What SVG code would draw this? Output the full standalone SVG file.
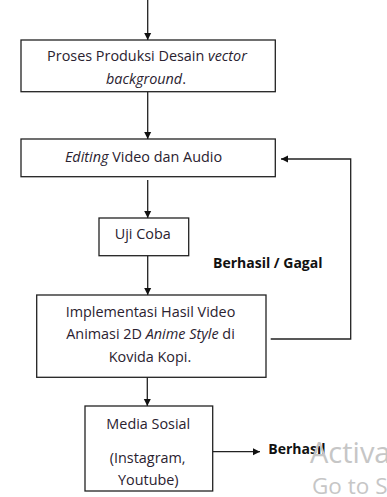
<svg xmlns="http://www.w3.org/2000/svg" width="387" height="497" viewBox="0 0 387 497">
<defs>
<marker id="ah" markerWidth="8" markerHeight="8" refX="7" refY="4" orient="auto" markerUnits="userSpaceOnUse">
<path d="M0,0.5 L7,4 L0,7.5 Z" fill="#111"/>
</marker>
<style>
.box{fill:#fff;stroke:#222;stroke-width:1.3}
.t{font-family:"Open Sans","Liberation Sans",sans-serif;font-size:14.4px;fill:#2a2230;text-anchor:middle}
.i{font-style:italic}
.b{font-family:"Open Sans","Liberation Sans",sans-serif;font-size:14px;font-weight:bold;fill:#111}
.c{fill:none;stroke:#222;stroke-width:1.3}
.w{font-family:"Open Sans","Liberation Sans",sans-serif;fill:#c6c6c6}
</style>
</defs>
<rect width="387" height="497" fill="#fff"/>
<g id="connectors">
<line class="c" x1="147.7" y1="0" x2="147.7" y2="40" marker-end="url(#ah)"/>
<line class="c" x1="147.7" y1="92" x2="147.7" y2="139" marker-end="url(#ah)"/>
<line class="c" x1="147.7" y1="180" x2="147.7" y2="218" marker-end="url(#ah)"/>
<line class="c" x1="147.7" y1="256" x2="147.7" y2="295" marker-end="url(#ah)"/>
<line class="c" x1="147.3" y1="375" x2="147.3" y2="406" marker-end="url(#ah)"/>
<polyline class="c" points="270.7,339 350.7,339 350.7,159 281,159" marker-end="url(#ah)"/>
<line class="c" x1="213" y1="451.7" x2="260" y2="451.7" marker-end="url(#ah)"/>
</g>
<g id="n1">
<rect class="box" x="21" y="40" width="254.3" height="51.7"/>
<text class="t" x="147" y="61">Proses Produksi Desain <tspan class="i">vector</tspan></text>
<text class="t i" x="146" y="84">background<tspan font-style="normal">.</tspan></text>
</g>
<g id="n2">
<rect class="box" x="21" y="139" width="254.3" height="37.7"/>
<text class="t" x="143.5" y="162.3"><tspan class="i">Editing</tspan> Video dan Audio</text>
</g>
<g id="n3">
<rect class="box" x="99" y="218" width="89.7" height="37.7"/>
<text class="t" x="142.7" y="239">Uji Coba</text>
</g>
<g id="n4">
<rect class="box" x="36.7" y="295" width="229.3" height="82.3"/>
<text class="t" x="150.5" y="316.7">Implementasi Hasil Video</text>
<text class="t" x="150.5" y="339">Animasi 2D <tspan class="i">Anime Style</tspan> di</text>
<text class="t" x="150" y="361.7">Kovida Kopi.</text>
</g>
<g id="n5">
<rect class="box" x="85" y="406" width="127.7" height="85"/>
<text class="t" x="148.3" y="429">Media Sosial</text>
<text class="t" x="147.7" y="463.3">(Instagram,</text>
<text class="t" x="148.3" y="485">Youtube)</text>
</g>
<g id="labels">
<text class="b" x="213" y="267.7">Berhasil / Gagal</text>
<text class="b" x="268.3" y="454">Berhasil</text>
</g>
<g id="watermark">
<text class="w" x="310" y="463" font-size="29">Activa</text>
<text class="w" x="312" y="494" font-size="22.5">Go to S</text>
</g>
</svg>
